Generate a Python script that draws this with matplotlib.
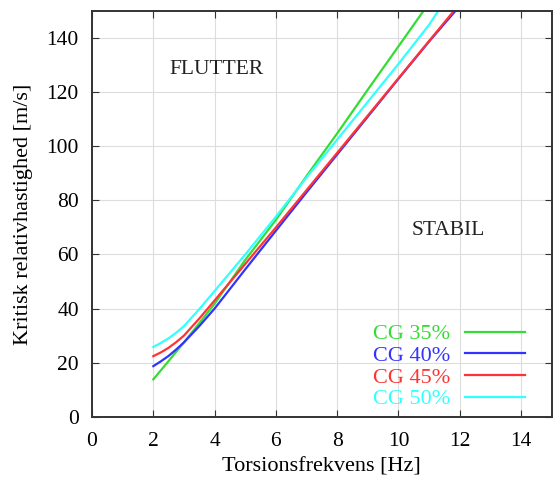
import matplotlib.pyplot as plt

plt.rcParams['font.family'] = ['Liberation Serif', 'DejaVu Serif']

# Torsionsfrekvens [Hz] and kritisk relativhastighed [m/s] for each CG position
x_cg35 = [2, 2.5, 3, 3.5, 4, 5, 6, 7, 8, 9, 10, 10.81]
y_cg35 = [13.8, 20.6, 27.5, 34.6, 41.8, 58, 72.8, 89, 104.8, 121, 137, 150]

x_cg40 = [2, 2.25, 2.5, 2.75, 3, 3.5, 4, 5, 6, 7, 8, 9, 10, 11, 11.85]
y_cg40 = [18.7, 20.5, 22.5, 24.9, 27.5, 33.5, 40, 54.5, 68.8, 83, 97, 111, 125, 138.8, 150]

x_cg45 = [2, 2.25, 2.5, 2.75, 3, 3.5, 4, 5, 6, 7, 8, 9, 10, 11, 11.8]
y_cg45 = [22.4, 23.8, 25.5, 27.6, 30, 36.3, 43, 56.5, 70, 83.8, 97.6, 111.4, 125.2, 139, 150]

x_cg50 = [2, 2.25, 2.5, 2.75, 3, 3.5, 4, 5, 6, 7, 8, 9, 10, 11, 11.29]
y_cg50 = [25.8, 27.3, 29, 31.1, 33.5, 39.8, 46.5, 60, 74, 88.5, 102.5, 116.5, 130.5, 145, 150]

fig = plt.figure(figsize=(5.53, 4.86), dpi=100)
ax = fig.add_axes([0.1664, 0.1426, 0.8313, 0.8344])

ax.plot(x_cg35, y_cg35, color='#33dd33', lw=1.6, label='CG 35%')
ax.plot(x_cg40, y_cg40, color='#3333ff', lw=1.6, label='CG 40%')
ax.plot(x_cg45, y_cg45, color='#ff3333', lw=1.6, label='CG 45%')
ax.plot(x_cg50, y_cg50, color='#33ffff', lw=1.6, label='CG 50%')

ax.set_xlim(0, 15)
ax.set_ylim(0, 150)
ax.set_xticks(range(0, 15, 2))
ax.set_yticks(range(0, 150, 20))
ax.grid(True, color='#dddddd', lw=0.8)
ax.tick_params(direction='in', top=True, right=True, length=5, labelsize=15.5,
               colors='#333333', labelcolor='black')
ax.tick_params(axis='x', pad=11)
ax.tick_params(axis='y', pad=9.5)
for s in ax.spines.values():
    s.set_color('#333333')
    s.set_linewidth(1.4)

ax.set_xlabel('Torsionsfrekvens [Hz]', fontsize=16, labelpad=5)
ax.set_ylabel('Kritisk relativhastighed [m/s]', fontsize=16, labelpad=10)

ax.text(4.08, 128.6, 'FLUTTER', fontsize=15.5, ha='center', va='center', color='#222222')
ax.text(11.64, 68.8, 'STABIL', fontsize=15.5, ha='center', va='center', color='#222222')

ax.legend(loc='lower right', bbox_to_anchor=(0.971, -0.015), frameon=False, markerfirst=False,
          labelcolor='linecolor', fontsize=16, handlelength=2.7, labelspacing=0.05,
          handletextpad=0.65, borderaxespad=0.2)

fig.savefig('out.png', dpi=100)
